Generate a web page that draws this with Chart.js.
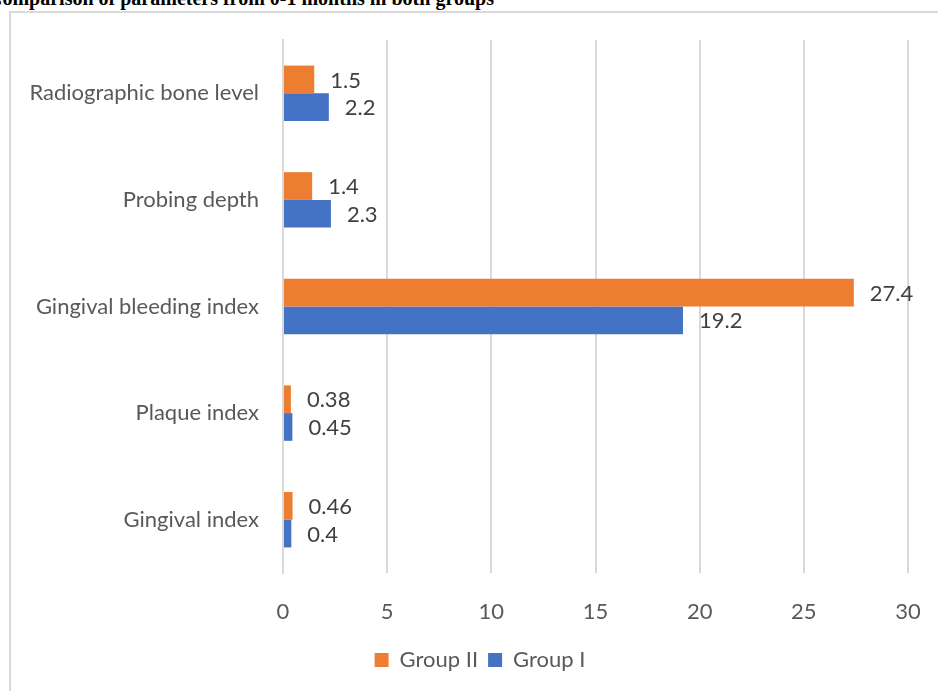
<!DOCTYPE html>
<html>
<head>
<meta charset="utf-8">
<script src="https://cdn.jsdelivr.net/npm/chart.js@4.4.0/dist/chart.umd.min.js"></script>
<style>
  body { margin: 0; background: #fff; overflow: hidden; }
  #wrap { position: relative; width: 938px; height: 691px; }
  #frame { position: absolute; left: 9px; top: 11px; width: 940px; height: 700px; border: 2px solid #d9d9d9; box-sizing: border-box; }
  #title { position: absolute; left: -12px; top: -13px; font: bold 20px "Liberation Serif", "Times New Roman", serif; color: #000; white-space: nowrap; }
  #box { position: absolute; left: 0; top: 0; width: 938px; height: 691px; }
</style>
</head>
<body>
<div id="wrap">
  <div id="frame"></div>
  <div id="title">Comparison of parameters from 0-1 months in both groups</div>
  <div id="box"><canvas id="barChart" width="938" height="691"></canvas></div>
</div>
<script>
var categories = ['Radiographic bone level', 'Probing depth', 'Gingival bleeding index', 'Plaque index', 'Gingival index'];
var groupII = [1.5, 1.4, 27.4, 0.38, 0.46];
var groupI = [2.2, 2.3, 19.2, 0.45, 0.4];
var xTicks = [0, 5, 10, 15, 20, 25, 30];

var labelFont = { family: 'Lato', size: 22 };

// draws the value next to each bar end
var valueLabels = {
    id: 'valueLabels',
    afterDatasetsDraw: function (chart) {
        var ctx = chart.ctx;
        ctx.save();
        ctx.font = '22px Lato';
        ctx.fillStyle = '#404040';
        ctx.textBaseline = 'middle';
        ctx.textAlign = 'left';
        chart.data.datasets.forEach(function (ds, i) {
            chart.getDatasetMeta(i).data.forEach(function (bar, j) {
                ctx.fillText(String(ds.data[j]), bar.x + 16, bar.y + 1);
            });
        });
        ctx.restore();
    }
};

// legend sits a bit right of the canvas centre in the original
var legendShift = {
    id: 'legendShift',
    afterLayout: function (chart) {
        chart.legend.left += 26;
        chart.legend.right += 26;
    }
};

var ctx1 = document.getElementById('barChart');
var myBarChart = new Chart(ctx1, {
    type: 'bar',
    data: {
        labels: categories,
        datasets: [{
            label: 'Group II',
            data: groupII,
            backgroundColor: '#ed7d31'
        }, {
            label: 'Group I',
            data: groupI,
            backgroundColor: '#4472c4'
        }]
    },
    options: {
        indexAxis: 'y',
        responsive: false,
        animation: false,
        layout: { padding: { top: 40, right: 30, bottom: 10, left: 0 } },
        datasets: { bar: { categoryPercentage: 0.52, barPercentage: 1.0 } },
        scales: {
            x: {
                min: 0,
                max: 30,
                afterBuildTicks: function (scale) {
                    scale.ticks = xTicks.map(function (v) { return { value: v }; });
                },
                grid: { color: '#d9d9d9', lineWidth: 2, drawTicks: false },
                border: { display: false },
                ticks: { color: '#595959', font: labelFont, padding: 26 },
                afterFit: function (scale) {
                    scale.height = 66;
                    scale.paddingLeft = 0;
                    scale.paddingRight = 0;
                }
            },
            y: {
                grid: { display: false, drawTicks: false },
                border: { display: true, color: '#d9d9d9', width: 2 },
                ticks: { color: '#595959', font: labelFont, padding: 24 },
                afterFit: function (scale) { scale.width = 283; }
            }
        },
        plugins: {
            legend: {
                position: 'bottom',
                labels: { color: '#595959', font: labelFont, boxWidth: 14, boxHeight: 14, padding: 10 }
            },
            tooltip: { enabled: false }
        }
    },
    plugins: [valueLabels, legendShift]
});
</script>
</body>
</html>
